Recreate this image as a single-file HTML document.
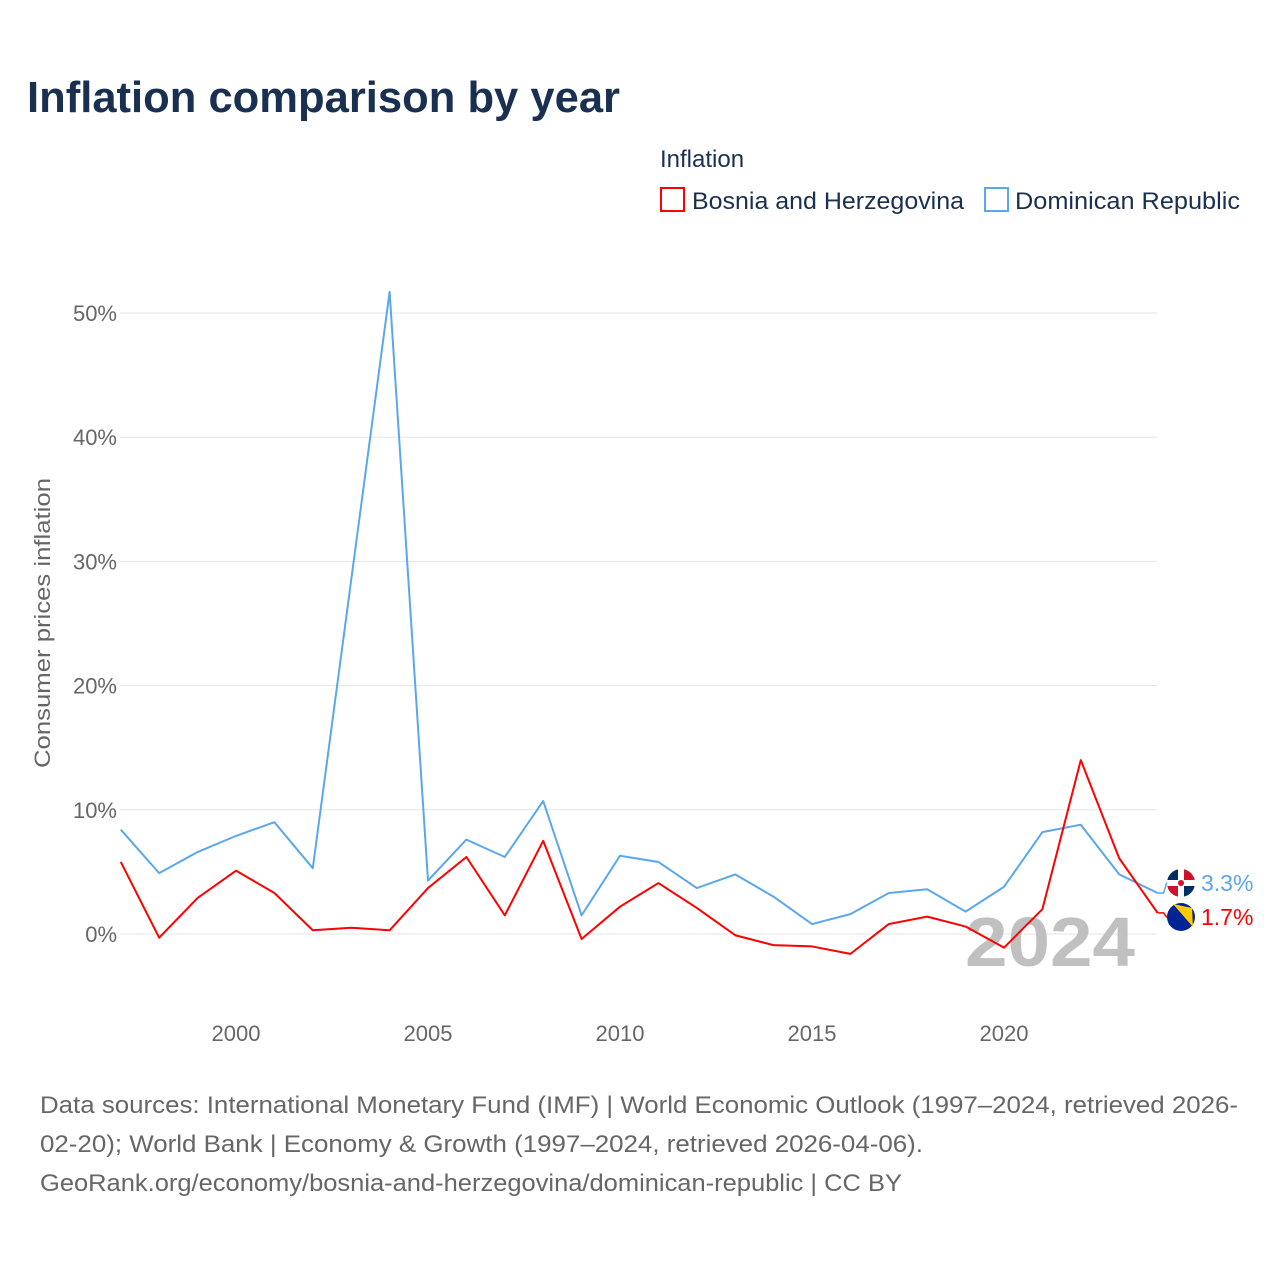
<!DOCTYPE html>
<html><head><meta charset="utf-8"><style>
body{margin:0;background:#fff;font-family:"Liberation Sans",sans-serif}
svg{display:block}
</style></head><body>
<svg id="c" width="1280" height="1280" xmlns="http://www.w3.org/2000/svg">
<text x="27" y="112" font-size="44" font-weight="bold" fill="#1a3050" textLength="593" lengthAdjust="spacingAndGlyphs">Inflation comparison by year</text>
<text x="660" y="167" font-size="24" fill="#1a3050">Inflation</text>
<g><rect x="661" y="188" width="23" height="23" fill="none" stroke="#ff0000" stroke-width="2"/><text x="692" y="209" font-size="24" fill="#1a3050" textLength="272" lengthAdjust="spacingAndGlyphs">Bosnia and Herzegovina</text></g>
<g><rect x="985" y="188" width="23" height="23" fill="none" stroke="#5aa7ec" stroke-width="2"/><text x="1015" y="209" font-size="24" fill="#1a3050" textLength="225" lengthAdjust="spacingAndGlyphs">Dominican Republic</text></g>
<g id="grid"></g><g id="axes"></g>
<text transform="translate(50,623) rotate(-90)" text-anchor="middle" font-size="22" fill="#666" textLength="290" lengthAdjust="spacingAndGlyphs">Consumer prices inflation</text>
<text x="965" y="966" font-size="70" font-weight="bold" fill="#c0c0c0" textLength="170" lengthAdjust="spacingAndGlyphs">2024</text>
<g id="series"></g>
<text x="40" y="1113" font-size="24" fill="#666" textLength="1198" lengthAdjust="spacingAndGlyphs">Data sources: International Monetary Fund (IMF) | World Economic Outlook (1997–2024, retrieved 2026-</text>
<text x="40" y="1152" font-size="24" fill="#666" textLength="883" lengthAdjust="spacingAndGlyphs">02-20); World Bank | Economy &amp; Growth (1997–2024, retrieved 2026-04-06).</text>
<text x="40" y="1191" font-size="24" fill="#666" textLength="862" lengthAdjust="spacingAndGlyphs">GeoRank.org/economy/bosnia-and-herzegovina/dominican-republic | CC BY</text>
</svg>
<script>
const years=[1997,1998,1999,2000,2001,2002,2003,2004,2005,2006,2007,2008,2009,2010,2011,2012,2013,2014,2015,2016,2017,2018,2019,2020,2021,2022,2023,2024];
const dominican=[8.4,4.9,6.6,7.9,9.0,5.3,28.5,51.7,4.3,7.6,6.2,10.7,1.5,6.3,5.8,3.7,4.8,3.0,0.8,1.6,3.3,3.6,1.8,3.8,8.2,8.8,4.8,3.3];
const bosnia=[5.8,-0.3,2.9,5.1,3.3,0.3,0.5,0.3,3.7,6.2,1.5,7.5,-0.4,2.2,4.1,2.1,-0.1,-0.9,-1.0,-1.6,0.8,1.4,0.6,-1.1,2.0,14.0,6.1,1.7];
const yTicks=[0,10,20,30,40,50];
const xTicks=[2000,2005,2010,2015,2020];
const NS="http://www.w3.org/2000/svg";
const x=v=>120.8+(v-1997)*38.4;
const y=v=>934-v*12.42;
function el(t,a,p){const e=document.createElementNS(NS,t);for(const k in a)e.setAttribute(k,a[k]);p.appendChild(e);return e;}
const grid=document.getElementById('grid'),axes=document.getElementById('axes'),ser=document.getElementById('series');
yTicks.forEach(t=>{
 const l=el('line',{x1:120,x2:1157,y1:y(t),y2:y(t),stroke:'#e6e6e6','stroke-width':1},grid);
 
 
 const tx=el('text',{x:117,y:y(t)+8,'text-anchor':'end','font-size':22,fill:'#666'},axes);
 tx.textContent=t+'%';
 
 
});
xTicks.forEach(t=>{
 const tx=el('text',{x:x(t),y:1041,'text-anchor':'middle','font-size':22,fill:'#666'},axes);
 tx.textContent=t;
 
 
});
function line(d,c,n){
 const p=el('polyline',{points:d.map((v,i)=>x(years[i])+','+y(v)).join(' '),fill:'none',stroke:c,'stroke-width':2,'stroke-linejoin':'round'},ser);
 
 
}
line(dominican,'#5aa7ec','dominican-line');
line(bosnia,'#ff0000','bosnia-line');
const last=years.length-1;
function end(v,c,ly,n,flag){
 const xe=x(years[last]);
 const p=el('polyline',{points:`${xe},${y(v)} ${xe+6},${y(v)} ${xe+9},${ly} ${xe+12},${ly}`,fill:'none',stroke:c,'stroke-width':1.5},ser);
 
 
 const g=el('g',{},ser);
 
 
 flag(g,1181,ly);
 const t=el('text',{x:1201,y:ly+8,'font-size':23,fill:c},ser);
 t.textContent=v+'%';
 
 
}
end(dominican[last],'#5aa7ec',883,'dominican',(g,cx,cy)=>{
 el('circle',{cx,cy,r:14,fill:'#002d62'},g);
 el('path',{d:`M${cx},${cy} L${cx},${cy-14} A14,14 0 0 1 ${cx+14},${cy} Z`,fill:'#ce1126'},g);
 el('path',{d:`M${cx},${cy} L${cx},${cy+14} A14,14 0 0 1 ${cx-14},${cy} Z`,fill:'#ce1126'},g);
 el('rect',{x:cx-3,y:cy-14,width:6,height:28,fill:'#fff'},g);
 el('rect',{x:cx-14,y:cy-3,width:28,height:6,fill:'#fff'},g);
 el('circle',{cx,cy,r:3,fill:'#ce1126'},g);
});
end(bosnia[last],'#ff0000',917,'bosnia',(g,cx,cy)=>{
 el('circle',{cx,cy,r:14,fill:'#002395'},g);
 el('path',{d:`M${cx-8},${cy-13} L${cx+11},${cy-9} L${cx+12},${cy+10} Z`,fill:'#fecb00'},g);
});
</script>
</body></html>
